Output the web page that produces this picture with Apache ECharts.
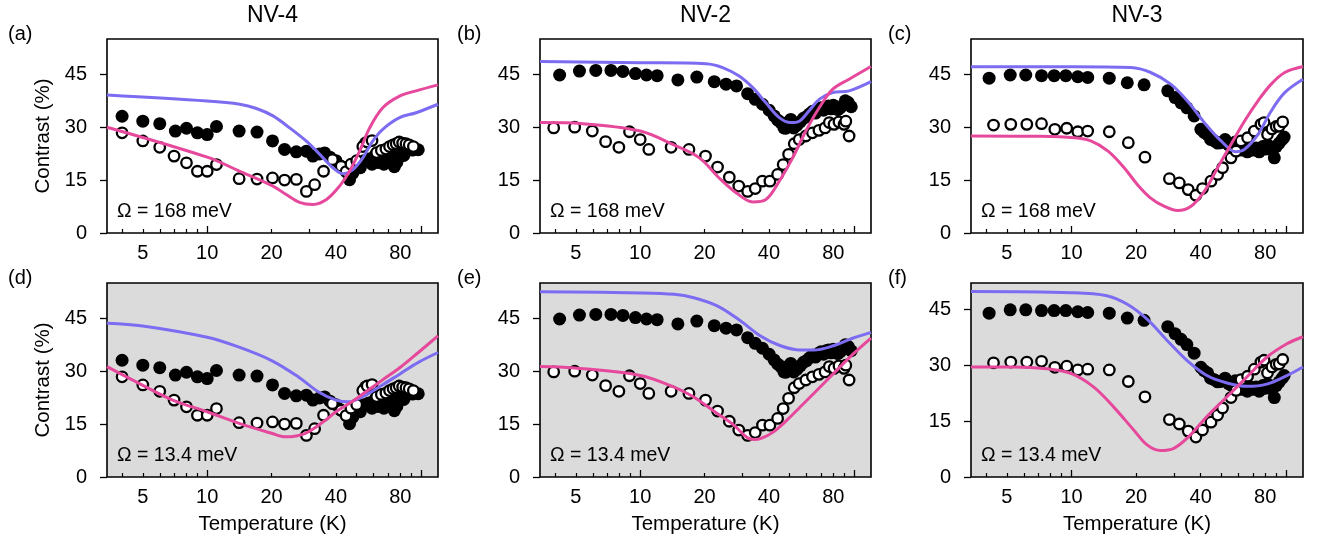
<!DOCTYPE html>
<html>
<head>
<meta charset="utf-8">
<script src="https://cdn.jsdelivr.net/npm/echarts@6/dist/echarts.min.js"></script>
<style>
html,body{margin:0;padding:0;background:#fff;}
#chart{width:1324px;height:542px;}
</style>
</head>
<body>
<div id="chart"></div>
<script>
// ---------- DATA ----------
const panelTitles = ['NV-4', 'NV-2', 'NV-3'];
const panelLetters = ['(a)', '(b)', '(c)', '(d)', '(e)', '(f)'];
const omegaLabels = ['Ω = 168 meV', 'Ω = 13.4 meV'];
const xTickLabels = [5, 10, 20, 40, 80];
const xMinorTicks = [4, 5, 6, 7, 8, 9, 20, 30, 40, 50, 60, 70, 80, 90];
const xMajorTicks = [10, 100];
const yTicks = [0, 15, 30, 45];

// NV-4 measured (filled / open)
const nv4FilledT = [4.0, 5.0, 6.0, 7.1, 8.0, 9.0, 10.0, 11.05, 14.1, 17.1, 20.2, 23.0, 26.1, 29.1, 31.2, 33.5, 35.4, 37.5, 40.0, 42.0, 44.0, 46.3, 48.0, 50.0, 52.0, 54.0, 55.0, 57.0, 59.0, 61.0, 63.0, 65.0, 67.0, 69.0, 71.0, 73.0, 75.0, 77.0, 79.0, 81.0, 83.0, 85.0, 88.0, 91.0, 94.0, 97.0];
const nv4FilledC = [33.1, 31.7, 31.0, 28.9, 29.7, 28.4, 27.9, 30.2, 28.9, 28.6, 26.1, 23.7, 23.0, 23.2, 21.8, 22.4, 22.7, 21.5, 20.5, 19.0, 18.5, 15.1, 17.0, 19.3, 18.5, 20.5, 25.5, 21.0, 19.5, 22.0, 20.0, 21.5, 19.5, 22.5, 20.5, 21.8, 18.8, 20.0, 21.5, 23.0, 22.0, 23.5, 24.0, 23.5, 23.8, 23.6];
const nv4OpenT = [4.0, 5.0, 6.0, 7.0, 8.0, 9.0, 10.0, 11.05, 14.1, 17.1, 20.2, 23.0, 26.1, 29.1, 31.8, 35.0, 38.5, 42.3, 44.6, 47.0, 50.0, 53.4, 56.0, 59.0, 62.0, 65.2, 68.5, 71.2, 74.0, 76.5, 79.0, 82.0, 85.0, 88.0, 92.0];
const nv4OpenC = [28.4, 26.1, 24.3, 21.8, 19.9, 17.5, 17.5, 19.4, 15.4, 15.3, 15.6, 15.0, 15.2, 11.8, 13.7, 17.5, 20.8, 18.9, 17.4, 19.5, 20.5, 24.5, 25.8, 26.2, 22.8, 23.4, 23.8, 24.5, 25.0, 25.3, 25.8, 25.5, 25.3, 25.0, 24.5];

// NV-2 measured
const nv2FilledT = [4.2, 5.2, 6.2, 7.3, 8.3, 9.5, 10.7, 12.0, 15.0, 18.4, 22.2, 25.2, 28.2, 31.8, 34.5, 37.3, 40.1, 42.3, 44.0, 45.5, 47.0, 48.0, 49.5, 50.6, 52.2, 54, 56, 58, 60, 62, 64, 66, 68, 70, 72, 74, 76, 78, 80, 82, 84, 86, 88, 91, 94, 97];
const nv2FilledC = [44.8, 45.9, 46.1, 46.1, 45.8, 45.2, 44.8, 44.6, 43.4, 44.2, 42.9, 42.2, 41.7, 39.5, 37.9, 36.5, 34.8, 33.2, 32.0, 31.3, 29.8, 29.7, 31.5, 32.2, 29.8, 30.5, 31.5, 32.5, 33.0, 33.8, 34.5, 34.0, 35.0, 35.5, 34.8, 35.8, 36.0, 35.2, 36.2, 35.8, 35.0, 35.5, 36.0, 37.5, 37.0, 35.8];
const nv2OpenT = [3.94, 4.94, 5.97, 6.89, 7.95, 8.91, 10.0, 10.97, 13.95, 16.9, 20.2, 23.0, 26.1, 28.9, 31.8, 34.5, 37.3, 40.4, 43.9, 46.6, 49.4, 52.5, 55.4, 59.5, 63.9, 68.5, 73.2, 76.6, 80.6, 85.0, 89.8, 91.5, 94.8];
const nv2OpenC = [29.8, 30.0, 28.9, 25.9, 24.3, 28.7, 26.5, 23.7, 24.3, 23.7, 21.8, 18.7, 15.8, 13.3, 11.8, 12.6, 14.7, 14.7, 16.6, 19.4, 22.3, 25.3, 26.5, 27.5, 28.4, 29.1, 29.8, 31.3, 30.8, 31.5, 30.8, 31.7, 27.5];

// NV-3 measured
const nv3FilledT = [4.13, 5.18, 6.12, 7.25, 8.3, 9.41, 10.7, 11.9, 15.0, 18.2, 21.8, 28.1, 30.4, 32.4, 34.5, 37.3, 40.1, 41.5, 43.1, 44.5, 46.3, 48.0, 49.7, 52, 54, 56, 58, 60, 62, 64, 66, 68, 70, 72.5, 75, 78, 80, 82, 84, 86, 88.2, 90, 93, 96, 98];
const nv3FilledC = [43.9, 44.8, 44.8, 44.6, 44.6, 44.6, 44.3, 44.1, 43.9, 42.6, 42.0, 40.3, 38.4, 36.9, 35.5, 33.2, 29.4, 28.5, 27.9, 26.5, 26.1, 25.5, 25.6, 26.5, 25.0, 24.5, 25.8, 24.0, 23.5, 24.8, 23.0, 24.2, 23.5, 24.1, 23.0, 24.5, 23.8, 25.0, 24.0, 23.5, 21.3, 24.5, 25.5, 26.5, 27.2];
const nv3OpenT = [4.33, 5.21, 6.19, 7.25, 8.36, 9.5, 10.7, 11.9, 15.0, 18.4, 22.0, 28.6, 31.8, 35.0, 38.0, 40.8, 44.7, 48.0, 50.6, 55.4, 58.5, 61.7, 66.2, 71.2, 76.4, 79, 82.0, 86, 90, 93.0, 96.5];
const nv3OpenC = [30.6, 30.8, 30.8, 31.0, 29.4, 29.7, 28.7, 28.9, 28.7, 25.6, 21.5, 15.4, 14.2, 12.3, 10.7, 12.6, 14.7, 16.6, 18.5, 21.3, 23.2, 26.1, 27.0, 28.9, 30.8, 31.3, 27.9, 29.5, 30.2, 30.3, 31.5];

// Model curves, panel (a)-(f): blue and pink
const aBlueT = [3.4, 10, 14.2, 17.0, 20.3, 24.3, 29.0, 33.6, 38.7, 43.1, 48.0, 53.4, 59.5, 66.2, 79.3, 94.8, 120];
const aBlueC = [39.1, 37.4, 36.5, 35.3, 33.2, 29.8, 26.1, 22.3, 18.5, 16.8, 18.0, 21.3, 26.1, 29.4, 32.7, 34.1, 36.5];
const aPinkT = [3.4, 10, 14.2, 20.3, 23.4, 27.0, 31.2, 36.1, 41.6, 46.3, 51.6, 57.5, 66.2, 79.3, 94.8, 120];
const aPinkC = [30.0, 21.5, 17.5, 13.3, 10.9, 8.7, 8.1, 9.5, 13.3, 17.5, 23.2, 29.8, 35.5, 38.8, 40.3, 42.0];

const bBlueT = [3.4, 10, 20.3, 24.3, 29.0, 33.6, 38.7, 44.7, 50.6, 55.4, 61.5, 68.7, 79.3, 94.8, 120];
const bBlueC = [48.6, 48.3, 48.0, 46.9, 44.5, 41.2, 36.9, 32.7, 31.3, 31.7, 34.6, 37.9, 39.8, 40.3, 42.9];
const bPinkT = [3.4, 5.4, 10, 14.2, 18.9, 23.4, 28.1, 33.6, 38.7, 44.7, 51.6, 59.5, 68.7, 79.3, 94.8, 120];
const bPinkC = [31.3, 31.0, 28.9, 25.1, 21.3, 15.6, 11.4, 8.8, 9.5, 14.7, 21.3, 28.9, 35.5, 40.7, 43.6, 47.2];

const cBlueT = [3.4, 10, 18.9, 23.4, 29.0, 34.7, 41.6, 49.8, 58.4, 64.0, 73.9, 85.3, 98.6, 120];
const cBlueC = [47.1, 47.1, 46.9, 45.5, 42.2, 37.4, 31.3, 26.1, 23.0, 23.7, 27.9, 34.6, 39.8, 43.6];
const cPinkT = [3.4, 7, 10.3, 12.3, 14.8, 17.6, 20.3, 23.4, 27.0, 31.2, 36.1, 41.6, 48.0, 55.4, 64.0, 73.9, 85.3, 98.6, 120];
const cPinkC = [27.5, 27.4, 27.0, 26.1, 23.2, 18.5, 13.7, 9.9, 7.6, 6.4, 7.6, 11.8, 18.5, 25.1, 31.7, 37.4, 42.2, 45.5, 47.2];

const dBlueT = [3.4, 5, 10, 14.1, 20, 26.8, 33.2, 40, 45.8, 55, 65.6, 80, 97.1, 120];
const dBlueC = [43.6, 42.8, 39.6, 36.8, 33.0, 28.3, 24.1, 21.8, 21.3, 23.2, 26.0, 29.3, 32.5, 35.3];
const dPinkT = [3.4, 5, 6.9, 10, 14.1, 20, 23.2, 28.8, 35.7, 40, 47.5, 55, 65.6, 80, 97.1, 120];
const dPinkC = [31.3, 26.0, 21.8, 18.5, 15.2, 12.4, 11.4, 12.4, 16.1, 18.5, 21.3, 24.1, 27.4, 31.1, 35.3, 40.0];

const eBlueT = [3.4, 10, 14.4, 17.8, 22.9, 29.4, 36.5, 45.3, 56.1, 64.6, 80, 99.1, 120];
const eBlueC = [52.5, 52.2, 51.8, 50.8, 48.5, 44.3, 40.0, 37.2, 36.0, 36.0, 37.2, 39.4, 41.0];
const ePinkT = [3.4, 4.93, 10, 14.4, 17.8, 22.9, 27.4, 31.6, 34, 37, 42, 48.5, 56.1, 64.6, 80, 99.1, 120];
const ePinkC = [31.3, 30.9, 28.8, 25.5, 22.7, 18.0, 14.7, 11.2, 10.6, 11.0, 12.8, 16.1, 19.9, 23.6, 29.3, 34.9, 39.4];

const fBlueT = [3.4, 10, 14.6, 18.2, 22.5, 27.9, 34.6, 42.8, 53.1, 65.7, 81.4, 101, 120];
const fBlueC = [49.7, 49.4, 48.6, 46.3, 42.3, 36.6, 31.2, 27.2, 25.2, 24.3, 24.9, 27.2, 29.5];
const fPinkT = [3.4, 5.39, 7.7, 10, 12.7, 15.7, 19.5, 22.5, 26, 30, 34.6, 42.8, 53.1, 65.7, 81.4, 101, 120];
const fPinkC = [29.5, 29.5, 29.0, 27.7, 24.1, 18.8, 12.6, 8.6, 7.1, 7.7, 10.4, 16.2, 21.5, 26.8, 32.1, 35.7, 37.6];

const yMaxes = [55, 55, 55, 55, 55, 52];

// ---------- BUILD ----------
const zip = (a, b) => a.map((v, i) => [v, b[i]]);
const measured = [
  [nv4FilledT, nv4FilledC, nv4OpenT, nv4OpenC],
  [nv2FilledT, nv2FilledC, nv2OpenT, nv2OpenC],
  [nv3FilledT, nv3FilledC, nv3OpenT, nv3OpenC]
];
const curves = [
  [aBlueT, aBlueC, aPinkT, aPinkC],
  [bBlueT, bBlueC, bPinkT, bPinkC],
  [cBlueT, cBlueC, cPinkT, cPinkC],
  [dBlueT, dBlueC, dPinkT, dPinkC],
  [eBlueT, eBlueC, ePinkT, ePinkC],
  [fBlueT, fBlueC, fPinkT, fPinkC]
];

const FONT = 'Liberation Sans, Arial, Helvetica, sans-serif';
const BLUE = '#7b6cf2';
const PINK = '#e6489b';
const colLeft = [107, 540, 971];
const colWidth = [331, 331, 332];
const rowTop = [39, 283];
const plotH = 194;

const grids = [], xAxes = [], yAxes = [], series = [], graphics = [];

for (let p = 0; p < 6; p++) {
  const row = Math.floor(p / 3), col = p % 3;
  grids.push({
    left: colLeft[col], top: rowTop[row], width: colWidth[col], height: plotH,
    show: true, borderColor: '#000', borderWidth: 1.6, z: 0,
    backgroundColor: row === 1 ? '#dbdbdb' : '#ffffff'
  });
  xAxes.push({
    type: 'log', logBase: 10, gridIndex: p, position: 'bottom', min: 3.4, max: 120, z: 3,
    axisLine: { show: false },
    axisTick: { show: true, inside: true, length: 4, customValues: xMinorTicks, lineStyle: { color: '#000', width: 1.2 } },
    axisLabel: { customValues: xTickLabels, formatter: v => String(Math.round(v)), fontSize: 20, color: '#000', fontFamily: FONT, margin: 10 },
    splitLine: { show: false },
    name: row === 1 ? 'Temperature (K)' : '',
    nameLocation: 'middle', nameGap: 37,
    nameTextStyle: { fontSize: 20.5, color: '#000', fontFamily: FONT }
  });
  yAxes.push({
    type: 'value', gridIndex: p, position: 'left', min: 0, max: yMaxes[p], interval: 15, z: 3,
    axisLine: { show: false },
    axisTick: { show: true, inside: false, length: 7, customValues: yTicks, lineStyle: { color: '#000', width: 1.3 } },
    axisLabel: { customValues: yTicks, fontSize: 20, color: '#000', fontFamily: FONT, margin: 20 },
    splitLine: { show: false },
    name: col === 0 ? 'Contrast (%)' : '',
    nameLocation: 'middle', nameGap: 53,
    nameTextStyle: { fontSize: 20.5, color: '#000', fontFamily: FONT }
  });
}
for (let p = 0; p < 6; p++) {
  xAxes.push({
    type: 'log', logBase: 10, gridIndex: p, position: 'bottom', offset: 0, min: 3.4, max: 120, z: 3,
    axisLine: { show: false },
    axisTick: { show: true, inside: true, length: 7, customValues: xMajorTicks, lineStyle: { color: '#000', width: 1.3 } },
    axisLabel: { show: false },
    splitLine: { show: false }
  });
}

for (let p = 0; p < 6; p++) {
  const col = p % 3;
  const m = measured[col];
  const c = curves[p];
  series.push({
    type: 'scatter', xAxisIndex: p, yAxisIndex: p, data: zip(m[0], m[1]),
    symbol: 'circle', symbolSize: 13, itemStyle: { color: '#000', opacity: 1 }, z: 4, silent: true
  });
  series.push({
    type: 'scatter', xAxisIndex: p, yAxisIndex: p, data: zip(m[2], m[3]),
    symbol: 'circle', symbolSize: 10.5, itemStyle: { color: '#fff', borderColor: '#000', borderWidth: 2.3, opacity: 1 }, z: 5, silent: true
  });
  series.push({
    type: 'line', xAxisIndex: p, yAxisIndex: p, data: zip(c[0], c[1]),
    showSymbol: false, smooth: 0.35, lineStyle: { color: BLUE, width: 3 }, z: 6, silent: true
  });
  series.push({
    type: 'line', xAxisIndex: p, yAxisIndex: p, data: zip(c[2], c[3]),
    showSymbol: false, smooth: 0.35, lineStyle: { color: PINK, width: 3 }, z: 7, silent: true
  });
}

const titleX = [272.5, 705.5, 1137];
for (let i = 0; i < 3; i++) {
  graphics.push({ type: 'text', x: titleX[i], y: 16, style: { text: panelTitles[i], font: '23px ' + FONT, fill: '#000', align: 'center', verticalAlign: 'middle' } });
}
const letterX = [8, 457, 888];
const letterY = [34, 278];
for (let p = 0; p < 6; p++) {
  const row = Math.floor(p / 3), col = p % 3;
  graphics.push({ type: 'text', x: letterX[col], y: letterY[row], style: { text: panelLetters[p], font: '20px ' + FONT, fill: '#000', align: 'left', verticalAlign: 'middle' } });
  graphics.push({ type: 'text', x: colLeft[col] + 10, y: rowTop[row] + plotH - 21.5, z: 10, style: { text: omegaLabels[row], font: '19.5px ' + FONT, fill: '#000', align: 'left', verticalAlign: 'middle' } });
}

const chart = echarts.init(document.getElementById('chart'), null, { renderer: 'canvas' });
chart.setOption({
  animation: false,
  backgroundColor: '#ffffff',
  textStyle: { fontFamily: FONT },
  grid: grids,
  xAxis: xAxes,
  yAxis: yAxes,
  series: series,
  graphic: graphics
});
</script>
</body>
</html>
